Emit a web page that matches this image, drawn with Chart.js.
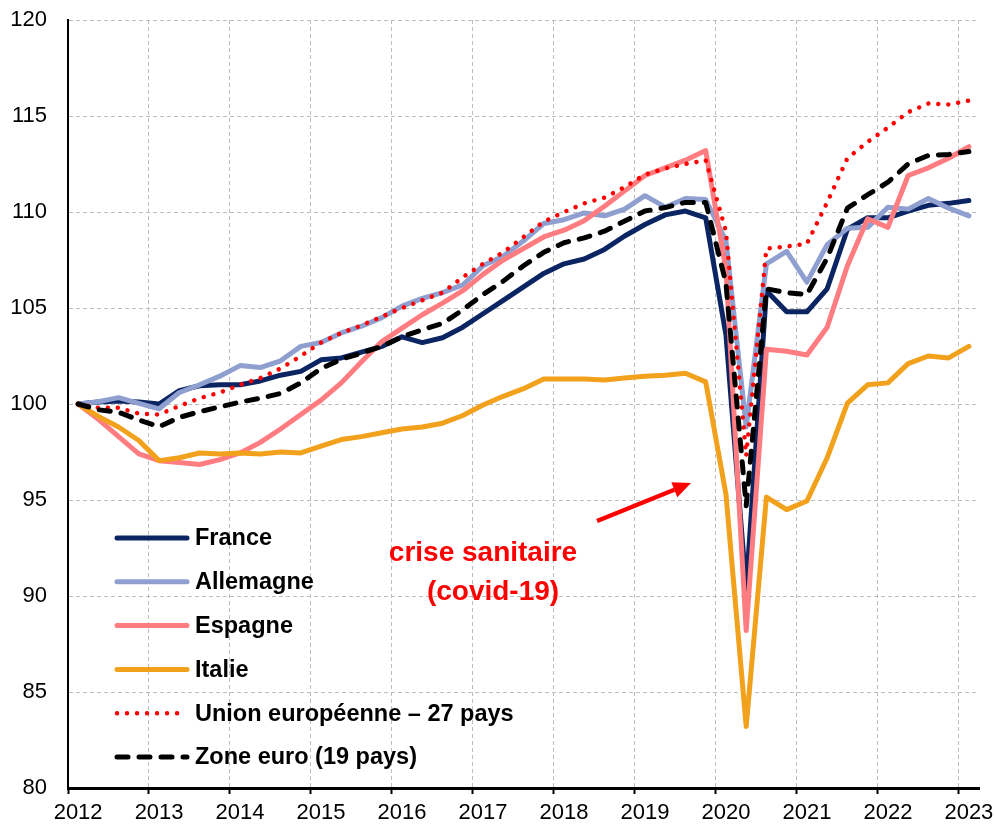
<!DOCTYPE html>
<html>
<head>
<meta charset="utf-8">
<script src="https://cdn.jsdelivr.net/npm/chart.js"></script>
<style>
  html, body { margin: 0; padding: 0; background: #fff; }
  #wrap { width: 994px; height: 828px; }
</style>
</head>
<body>
<div id="wrap"><canvas id="pibChart" width="994" height="828"></canvas></div>
<script>
// year labels, shown on the first quarter of each year
const years = ['2012', '2013', '2014', '2015', '2016', '2017', '2018', '2019', '2020', '2021', '2022', '2023'];

// quarterly GDP volume, base 100 = 2012 T1 (2012 T1 .. 2023 T1)
const france = [
  100, 100.1, 100.15, 100.1, 100.0, 100.7, 100.95, 101.0, 101.0, 101.2, 101.5, 101.7,
  102.3, 102.4, 102.7, 103.0, 103.5, 103.2, 103.45, 104.0, 104.7, 105.4, 106.1, 106.8,
  107.3, 107.55, 108.05, 108.75, 109.35, 109.85, 110.05, 109.7, 103.6, 90.4, 105.9, 104.8,
  104.8, 106.0, 109.1, 109.7, 109.7, 110.05, 110.35, 110.45, 110.6,
];
const allemagne = [
  100, 100.12, 100.33, 100.03, 99.75, 100.6, 101.0, 101.45, 102.0, 101.9, 102.25, 103.0,
  103.2, 103.7, 104.05, 104.5, 105.1, 105.5, 105.8, 106.2, 107.2, 107.7, 108.5, 109.4,
  109.6, 109.95, 109.8, 110.15, 110.85, 110.25, 110.7, 110.65, 108.5, 98.8, 107.3, 107.95,
  106.35, 108.3, 109.15, 109.2, 110.25, 110.15, 110.7, 110.2, 109.8,
];
const espagne = [
  100, 99.2, 98.3, 97.4, 97.05, 96.95, 96.85, 97.1, 97.45, 98.0, 98.7, 99.45,
  100.2, 101.1, 102.2, 103.25, 103.95, 104.65, 105.25, 105.9, 106.75, 107.5, 108.1, 108.7,
  109.05, 109.55, 110.3, 111.1, 111.9, 112.3, 112.7, 113.2, 107.0, 88.2, 102.85, 102.75,
  102.55, 104.0, 107.2, 109.65, 109.2, 111.9, 112.3, 112.8, 113.4,
];
const italie = [
  100, 99.35, 98.8, 98.1, 97.05, 97.2, 97.45, 97.4, 97.45, 97.4, 97.5, 97.45,
  97.8, 98.15, 98.3, 98.5, 98.7, 98.8, 99.0, 99.4, 99.95, 100.4, 100.8, 101.3,
  101.3, 101.3, 101.25, 101.35, 101.45, 101.5, 101.6, 101.15, 95.3, 83.2, 95.15, 94.5,
  94.95, 97.2, 100.05, 101.0, 101.1, 102.1, 102.5, 102.4, 103.0,
];
const ue27 = [
  100, 99.8, 99.8, 99.5, 99.45, 99.9, 100.3, 100.6, 101.0, 101.35, 101.85, 102.5,
  103.2, 103.7, 104.1, 104.55, 105.0, 105.4, 105.8, 106.6, 107.3, 107.9, 108.7, 109.5,
  110.0, 110.45, 110.75, 111.3, 111.95, 112.27, 112.5, 112.7, 109.0, 97.3, 108.1, 108.2,
  108.35, 110.5, 112.8, 113.65, 114.4, 115.2, 115.65, 115.6, 115.8,
];
const zoneEuro = [
  100, 99.7, 99.57, 99.17, 98.82, 99.3, 99.6, 99.85, 100.1, 100.3, 100.55, 101.1,
  101.85, 102.33, 102.65, 103.0, 103.5, 103.87, 104.2, 104.9, 105.7, 106.4, 107.2, 107.9,
  108.4, 108.65, 109.0, 109.53, 110.05, 110.23, 110.5, 110.5, 106.3, 94.7, 106.0, 105.8,
  105.7, 107.6, 110.2, 110.9, 111.55, 112.5, 112.95, 113.0, 113.15,
];

// category labels: one per quarter, only T1 carries the year
const quarterLabels = [];
years.forEach((year, i) => {
  const count = i === years.length - 1 ? 1 : 4;
  for (let q = 0; q < count; q++) quarterLabels.push(q === 0 ? year : '');
});

const FONT = 'Arial, "Liberation Sans", sans-serif';
Chart.defaults.font.family = FONT;
Chart.defaults.color = '#000';

// legend + "crise sanitaire" note, drawn inside the plot
const overlayPlugin = {
  id: 'overlay',
  afterDraw(chart) {
    const { ctx, chartArea } = chart;
    ctx.save();

    const lineX0 = chartArea.left + 49;
    const lineX1 = chartArea.left + 119;
    ctx.font = 'bold 23.5px ' + FONT;
    ctx.textBaseline = 'middle';
    ctx.textAlign = 'left';
    chart.data.datasets.forEach((ds, i) => {
      const y = 538 + i * 43.8;
      ctx.save();
      ctx.strokeStyle = ds.borderColor;
      ctx.lineWidth = ds.borderWidth;
      ctx.lineCap = ds.borderCapStyle || 'round';
      ctx.setLineDash(ds.borderDash || []);
      ctx.beginPath();
      ctx.moveTo(lineX0, y);
      ctx.lineTo(lineX1, y);
      ctx.stroke();
      ctx.restore();
      ctx.fillStyle = '#000';
      ctx.fillText(ds.label, lineX1 + 8, y + 1);
    });

    // annotation
    ctx.fillStyle = '#ff0000';
    ctx.font = 'bold 28px ' + FONT;
    ctx.textAlign = 'center';
    ctx.fillText('crise sanitaire', 483, 553);
    ctx.fillText('(covid-19)', 493, 592);

    // arrow
    const ax0 = 597, ay0 = 521, ax1 = 691, ay1 = 483;
    const ang = Math.atan2(ay1 - ay0, ax1 - ax0);
    const headLen = 18, headW = 8;
    const bx = ax1 - headLen * Math.cos(ang);
    const by = ay1 - headLen * Math.sin(ang);
    ctx.strokeStyle = '#ff0000';
    ctx.lineWidth = 4.5;
    ctx.lineCap = 'butt';
    ctx.beginPath();
    ctx.moveTo(ax0, ay0);
    ctx.lineTo(bx, by);
    ctx.stroke();
    ctx.beginPath();
    ctx.moveTo(ax1, ay1);
    ctx.lineTo(bx + headW * Math.sin(ang), by - headW * Math.cos(ang));
    ctx.lineTo(bx - headW * Math.sin(ang), by + headW * Math.cos(ang));
    ctx.closePath();
    ctx.fill();

    ctx.restore();
  },
};

function solid(label, data, color, order) {
  return {
    label,
    data,
    borderColor: color,
    borderWidth: 5,
    borderJoinStyle: 'round',
    borderCapStyle: 'round',
    pointRadius: 0,
    tension: 0,
    fill: false,
    order,
  };
}

const ctx = document.getElementById('pibChart').getContext('2d');
new Chart(ctx, {
  type: 'line',
  data: {
    labels: quarterLabels,
    datasets: [
      solid('France', france, '#0b2462', 6),
      solid('Allemagne', allemagne, '#8e9fd0', 5),
      solid('Espagne', espagne, '#ff7c80', 4),
      solid('Italie', italie, '#f2a11d', 3),
      {
        label: 'Union européenne – 27 pays',
        data: ue27,
        borderColor: '#ff0000',
        borderWidth: 4.5,
        borderDash: [0.01, 10],
        borderCapStyle: 'round',
        pointRadius: 0,
        tension: 0,
        fill: false,
        order: 2,
      },
      {
        label: 'Zone euro (19 pays)',
        data: zoneEuro,
        borderColor: '#000000',
        borderWidth: 5,
        borderDash: [11, 11],
        borderCapStyle: 'round',
        borderJoinStyle: 'round',
        pointRadius: 0,
        tension: 0,
        fill: false,
        order: 1,
      },
    ],
  },
  options: {
    responsive: false,
    animation: false,
    devicePixelRatio: 1,
    layout: { padding: { top: 20, right: 15, left: 0, bottom: 0 } },
    scales: {
      x: {
        type: 'category',
        offset: true,
        afterFit: (scale) => { scale.height = 40; },
        ticks: {
          autoSkip: false,
          maxRotation: 0,
          minRotation: 0,
          padding: 0,
          font: { size: 22, lineHeight: 1.75 },
          color: '#000',
        },
        grid: {
          offset: true,
          color: (c) => (c.index % 4 === 0 ? '#bdbdbd' : 'rgba(0,0,0,0)'),
          lineWidth: 1,
          tickLength: 6,
          tickWidth: 2,
          tickColor: (c) => (c.index % 4 === 0 ? '#000' : 'rgba(0,0,0,0)'),
        },
        border: { color: '#000', width: 3, dash: [4, 3] },
      },
      y: {
        min: 80,
        max: 120,
        afterFit: (scale) => { scale.width = 68; },
        ticks: {
          stepSize: 5,
          padding: 0,
          font: { size: 22 },
          color: '#000',
        },
        grid: {
          color: '#bdbdbd',
          lineWidth: 1,
          tickLength: 21,
          tickColor: 'rgba(0,0,0,0)',
        },
        border: { color: '#000', width: 2, dash: [4, 3] },
      },
    },
    plugins: {
      legend: { display: false },
      tooltip: { enabled: false },
    },
  },
  plugins: [overlayPlugin],
});
</script>
</body>
</html>
